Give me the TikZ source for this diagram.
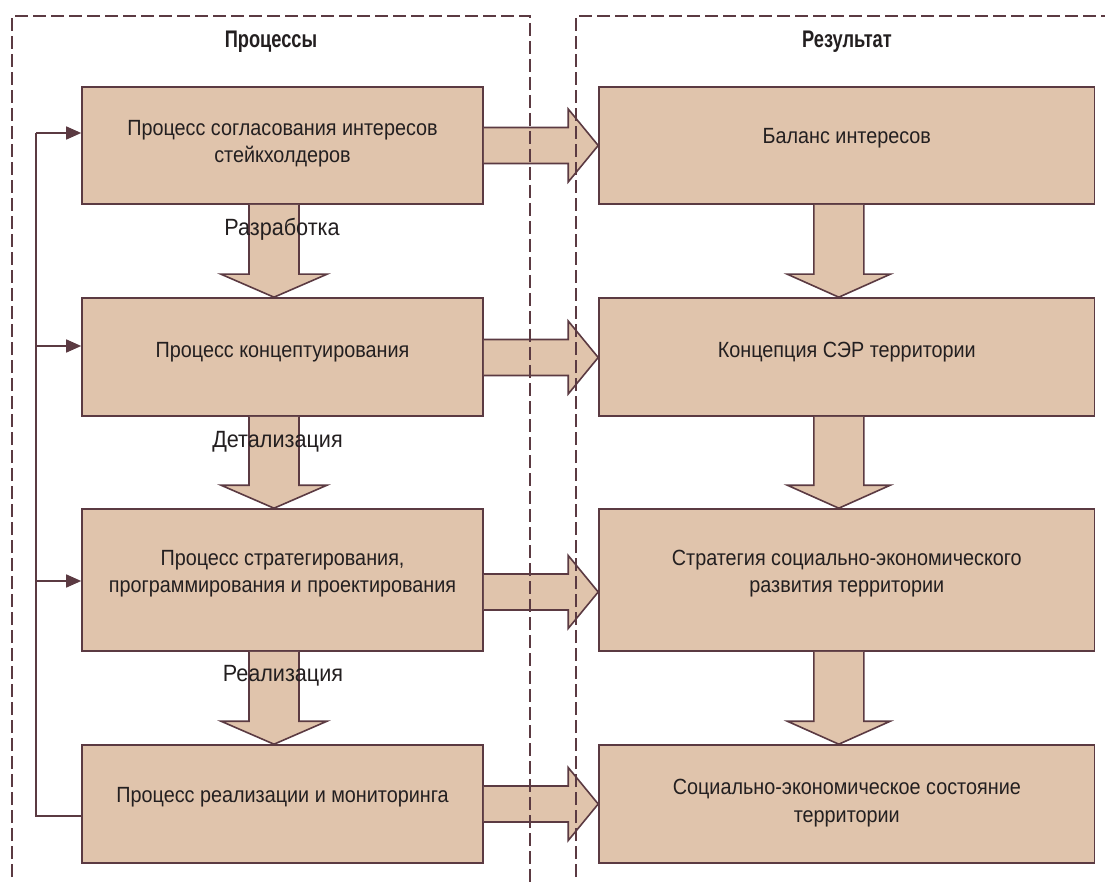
\documentclass[tikz,border=0pt]{standalone}
\usepackage{fontspec}
\setmainfont{Liberation Sans}
\newfontfamily\bodyfont{Liberation Sans}[FakeStretch=0.9]
\newfontfamily\labfont{Liberation Sans}[FakeStretch=0.92]
\newfontfamily\titlefont{Liberation Sans}[FakeStretch=0.76]
\usetikzlibrary{arrows.meta,calc}
\definecolor{boxfill}{HTML}{E0C4AC}
\definecolor{edge}{HTML}{5B3A42}
\definecolor{ink}{HTML}{231F20}
\begin{document}
\begin{tikzpicture}[x=1pt,y=-1pt,
  box/.style={draw=edge, fill=boxfill, line width=1.6pt, rectangle, inner sep=0pt},
  lbox/.style={box, minimum width=401pt},
  rbox/.style={box, minimum width=495.6pt},
  txt/.style={text=ink, align=center, font=\bodyfont\fontsize{22}{27.5}\selectfont},
  lab/.style={text=ink, font=\labfont\fontsize{23.5}{26}\selectfont},
  ttl/.style={text=ink, font=\titlefont\bfseries\fontsize{24}{26}\selectfont},
  blk/.style={draw=edge, fill=boxfill, line width=1.6pt, line join=miter},
  fbline/.style={draw=edge, line width=1.5pt},
  fbarrow/.style={fbline, -{Triangle[length=15pt,width=13pt]}},
  frame/.style={draw=edge, line width=1.5pt, dash pattern=on 13pt off 5pt}
]
\useasboundingbox (0,0) rectangle (1105,882);

% boxes
\node[lbox, minimum height=117pt] (p1) at (282.5,145.5) {};
\node[lbox, minimum height=118pt] (p2) at (282.5,357) {};
\node[lbox, minimum height=142pt] (p3) at (282.5,580) {};
\node[lbox, minimum height=118pt] (p4) at (282.5,804) {};
\node[rbox, minimum height=117pt] (r1) at (846.8,145.5) {};
\node[rbox, minimum height=118pt] (r2) at (846.8,357) {};
\node[rbox, minimum height=142pt] (r3) at (846.8,580) {};
\node[rbox, minimum height=118pt] (r4) at (846.8,804) {};

% box texts
\node[txt] (t1) at (282.5,143.5) {Процесс согласования интересов\\стейкхолдеров};
\node[txt] (t2) at (282.5,352) {Процесс концептуирования};
\node[txt] (t3) at (282.5,573.5) {Процесс стратегирования,\\программирования и проектирования};
\node[txt] (t4) at (282.5,797) {Процесс реализации и мониторинга};
\node[txt] (s1) at (846.8,138) {Баланс интересов};
\node[txt] (s2) at (846.8,352) {Концепция СЭР территории};
\node[txt] (s3) at (846.8,573.5) {Стратегия социально-экономического\\развития территории};
\node[txt] (s4) at (846.8,803) {Социально-экономическое состояние\\территории};

% right block arrows
\foreach \a/\b/\d in {p1/r1/0, p2/r2/0.5, p3/r3/12, p4/r4/0}{
  \path[blk] ($(\a.east)+(0,\d-18)$) -- ($(\b.west)+(-30,\d-18)$) -- ($(\b.west)+(-30,\d-36.5)$)
    -- ($(\b.west)+(0,\d)$) -- ($(\b.west)+(-30,\d+36.5)$) -- ($(\b.west)+(-30,\d+18)$) -- ($(\a.east)+(0,\d+18)$);
}

% down block arrows
\foreach \a/\b/\o/\h in {p1/p2/-8.5/53, p2/p3/-8.5/53, p3/p4/-8.5/53, r1/r2/-8/51.5, r2/r3/-8/51.5, r3/r4/-8/51.5}{
  \path[blk] ($(\a.south)+(\o-25,0)$) -- ($(\b.north)+(\o-25,-23)$) -- ($(\b.north)+(\o-\h,-23)$)
    -- ($(\b.north)+(\o,0)$) -- ($(\b.north)+(\o+\h,-23)$) -- ($(\b.north)+(\o+25,-23)$) -- ($(\a.south)+(\o+25,0)$);
}

% arrow labels
\node[lab] (l1) at (282,229) {Разработка};
\node[lab] (l2) at (277.5,442) {Детализация};
\node[lab] (l3) at (283,676) {Реализация};

% feedback line
\coordinate (a1) at ($(p1.west)+(0,-12.5)$);
\coordinate (a2) at ($(p2.west)+(0,-11)$);
\coordinate (a3) at ($(p3.west)+(0,1)$);
\coordinate (a4) at ($(p4.west)+(0,12)$);
\coordinate (fbtop) at (36,133);
\coordinate (fbbot) at (36,816);
\draw[fbline] (a4) -- (fbbot) -- (fbtop);
\draw[fbarrow] (fbtop) -- (a1);
\draw[fbarrow] (fbtop |- a2) -- (a2);
\draw[fbarrow] (fbtop |- a3) -- (a3);

% dashed frames
\coordinate (f1a) at (12,895);
\coordinate (f1b) at (12,16);
\coordinate (f1c) at (530,16);
\coordinate (f1d) at (530,895);
\coordinate (f2a) at (576,895);
\coordinate (f2b) at (576,16);
\coordinate (f2c) at (1115,16);
\draw[frame] (f1a) -- (f1b) -- (f1c) -- (f1d);
\draw[frame] (f2a) -- (f2b) -- (f2c);

% titles
\node[ttl] (h1) at (271,42) {Процессы};
\node[ttl] (h2) at (847,42) {Результат};
\end{tikzpicture}
\end{document}
